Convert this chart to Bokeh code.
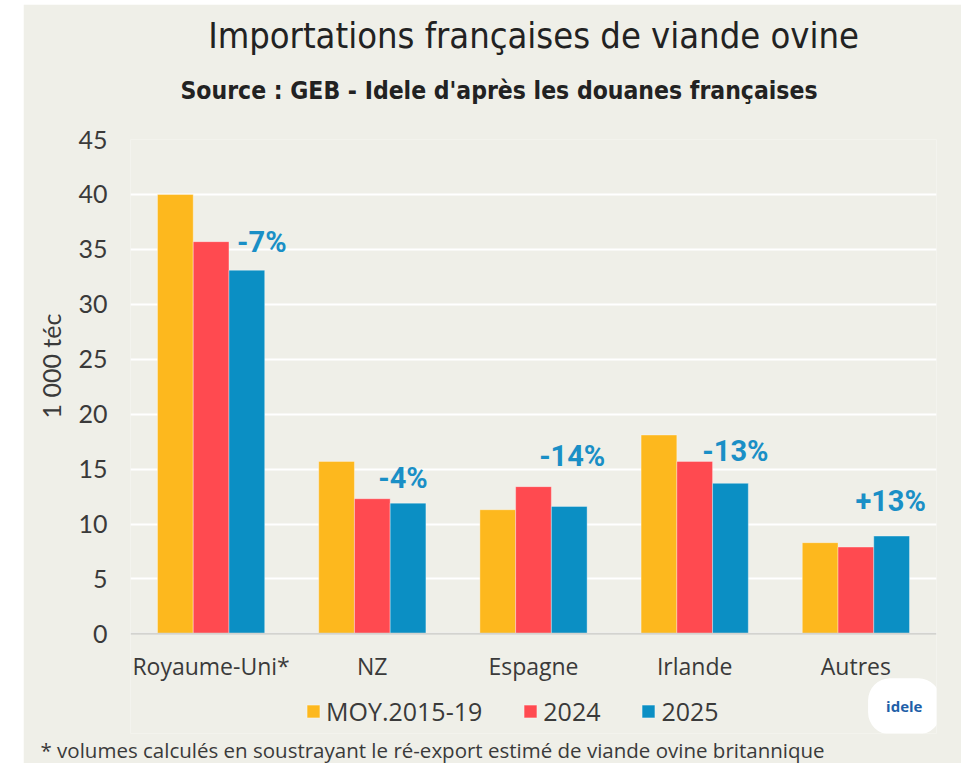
from bokeh.plotting import figure
from bokeh.models import (ColumnDataSource, FactorRange, Range1d, LabelSet, Label, Title,
                          Legend, LegendItem, FixedTicker, Span)
from bokeh.transform import dodge
from bokeh.core.properties import value
from bokeh.embed import file_html
from bokeh.resources import INLINE

# ---------------- data ----------------
categories = ["Royaume-Uni*", "NZ", "Espagne", "Irlande", "Autres"]
series_names = ["MOY.2015-19", "2024", "2025"]
moy_2015_19 = [40.0, 15.7, 11.3, 18.1, 8.3]
val_2024 = [35.7, 12.3, 13.4, 15.7, 7.9]
val_2025 = [33.1, 11.9, 11.6, 13.7, 8.9]
variation_labels = ["-7%", "-4%", "-14%", "-13%", "+13%"]
variation_label_y = [34.8, 13.3, 15.25, 15.7, 11.2]
y_ticks = [0, 5, 10, 15, 20, 25, 30, 35, 40, 45]

title_text = "Importations françaises de viande ovine"
subtitle_text = "Source : GEB - Idele d'après les douanes françaises"
y_label = "1 000 téc"
footnote_text = "* volumes calculés en soustrayant le ré-export estimé de viande ovine britannique"
logo_text = "idele"

# ---------------- style ----------------
BG = "#EFEFE8"
COLORS = ["#FDB81E", "#FF4A50", "#0B8FC4"]
LABEL_BLUE = "#1A8FC6"
TEXT = "#3A3A3A"
NARROW = "'DejaVu Sans Condensed', 'Noto Sans Condensed', Roboto"
SANS = "Open Sans"
BAR_W = 0.2217
label_dx = [15, -5, 3, 5, -1]
Y_LOW = -9.07          # extra room under the zero line for the category labels and legend
CAT_LABEL_Y = -2.9

W, H = 938, 759

p = figure(x_range=FactorRange(*categories), y_range=Range1d(Y_LOW, 45),
           width=W, height=H, output_backend="svg", toolbar_location=None,
           x_axis_location=None,
           min_border_left=107, min_border_right=25, min_border_top=135,
           min_border_bottom=28,
           background_fill_color=BG, border_fill_color=BG, outline_line_color=None)
p.margin = (4, 0, 0, 23)

src = ColumnDataSource(dict(cat=categories, moy=moy_2015_19, y24=val_2024, y25=val_2025,
                            lab=variation_labels, laby=variation_label_y, dx=label_dx,
                            caty=[CAT_LABEL_Y] * len(categories)))

renderers = []
for off, col, c in zip([-BAR_W, 0, BAR_W], ["moy", "y24", "y25"], COLORS):
    r = p.vbar(x=dodge("cat", off, range=p.x_range), top=col, width=BAR_W, source=src,
               fill_color=c, line_color="white", line_alpha=0.35, line_width=1)
    renderers.append(r)

# zero line
p.add_layout(Span(location=0, dimension="width", line_color="#D3D3CF", line_width=2))

# variation labels
p.add_layout(LabelSet(x=dodge("cat", BAR_W, range=p.x_range), y="laby", text="lab",
                      x_offset="dx", source=src, text_align="center",
                      text_baseline="alphabetic", text_font=value("Roboto"),
                      text_font_style="bold", text_font_size="29px",
                      text_color=LABEL_BLUE))

# category labels
p.add_layout(LabelSet(x="cat", y="caty", text="cat", source=src, text_align="center",
                      text_baseline="middle", text_font=value(SANS),
                      text_font_size="23px", text_color=TEXT))

# y axis
p.yaxis.ticker = FixedTicker(ticks=y_ticks)
p.yaxis.axis_line_color = None
p.yaxis.major_tick_line_color = None
p.yaxis.minor_tick_line_color = None
p.yaxis.major_label_standoff = 17
p.yaxis.major_label_text_font = "Lato"
p.yaxis.major_label_text_font_size = "25px"
p.yaxis.major_label_text_color = TEXT

# y axis title, placed beside the value range
p.add_layout(Title(text=y_label, align="left", offset=315, standoff=20,
                   text_font="Lato", text_font_style="normal", text_font_size="25px",
                   text_color=TEXT), "left")

p.xgrid.grid_line_color = None
p.ygrid.grid_line_color = "white"
p.ygrid.grid_line_width = 2

# legend (inside the frame, under the category labels)
legend = Legend(items=[LegendItem(label=n, renderers=[r]) for n, r in zip(series_names, renderers)],
                orientation="horizontal", location=(175, 5),
                background_fill_alpha=0, border_line_color=None, padding=0, margin=0,
                spacing=40, label_standoff=5, glyph_width=16, glyph_height=16,
                label_height=24, label_text_font=SANS, label_text_font_size="25px",
                label_text_color=TEXT)
p.add_layout(legend, "center")

# logo badge
p.add_layout(Label(x=4.8, y=-6.6, text=logo_text, text_align="center",
                   text_baseline="middle", text_font=SANS, text_font_style="bold",
                   text_font_size="15px", text_color="#1F5FA8",
                   background_fill_color="white", padding=18, border_radius=22))

# footnote below
p.add_layout(Title(text=footnote_text, align="left", offset=-90, standoff=0,
                   text_font=SANS, text_font_style="normal", text_font_size="20.5px",
                   text_color=TEXT), "below")

# subtitle then title above
p.add_layout(Title(text=subtitle_text, align="left", offset=50, standoff=69,
                   text_font=NARROW, text_font_style="bold", text_font_size="24.5px",
                   text_color="#222222"), "above")
p.add_layout(Title(text=title_text, align="center", standoff=-32,
                   text_font=NARROW, text_font_style="normal", text_font_size="36px",
                   text_color="#222222"), "above")

open("out.html", "w").write(file_html(p, INLINE))
